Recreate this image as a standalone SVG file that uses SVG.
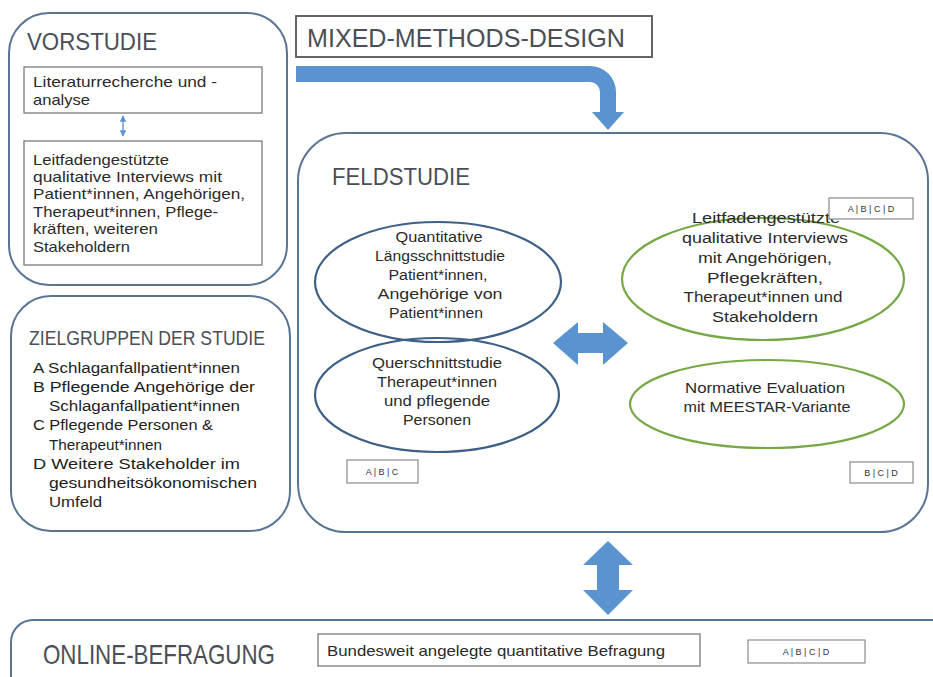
<svg xmlns="http://www.w3.org/2000/svg" width="933" height="677" viewBox="0 0 933 677">
<style>
.frame{fill:#fff;stroke:#5a7593;stroke-width:2}
.box{fill:#fff;stroke:#7a7a7a;stroke-width:1.3}
.tag{fill:#fff;stroke:#8a8a8a;stroke-width:1.2}
.title{font-family:"Liberation Sans",Arial,sans-serif;fill:#4a4f57}
.t{font-family:"Liberation Sans",Arial,sans-serif;font-size:15px;fill:#2a2a2a}
.tl{font-family:"Liberation Sans",Arial,sans-serif;font-size:15.5px;fill:#1e1e1e}
.tc{font-family:"Liberation Sans",Arial,sans-serif;font-size:15.5px;fill:#2a2a2a;text-anchor:middle}
.tg{font-family:"Liberation Sans",Arial,sans-serif;font-size:9px;fill:#333;text-anchor:middle}
.eb{fill:none;stroke:#3e5f86;stroke-width:2.2}
.eg{fill:none;stroke:#76a845;stroke-width:2.2}
.arr{fill:#5b93d1}
</style>
<defs>
<marker id="ah" viewBox="0 0 10 10" refX="9" refY="5" markerWidth="5" markerHeight="5" orient="auto-start-reverse">
<path d="M0,0 L10,5 L0,10 Z" fill="#5b93d1"/>
</marker>
</defs>
<rect width="933" height="677" fill="#fff"/>

<g id="vorstudie">
<rect class="frame" x="9" y="13" width="278" height="272" rx="40"/>
<text class="title" x="27" y="50" font-size="24" textLength="130" lengthAdjust="spacingAndGlyphs">VORSTUDIE</text>
</g>
<g id="literatur">
<rect class="box" x="24" y="67" width="238" height="46"/>
<text class="t" x="33" y="87" textLength="184" lengthAdjust="spacingAndGlyphs">Literaturrecherche  und  -</text>
<text class="t" x="33" y="105" textLength="57" lengthAdjust="spacingAndGlyphs">analyse</text>
</g>
<g id="interviews-vor">
<rect class="box" x="24" y="141" width="238" height="124"/>
<text class="t" x="33" y="165" textLength="136" lengthAdjust="spacingAndGlyphs">Leitfadengestützte</text>
<text class="t" x="33" y="182" textLength="189" lengthAdjust="spacingAndGlyphs">qualitative Interviews mit</text>
<text class="t" x="33" y="199" textLength="212" lengthAdjust="spacingAndGlyphs">Patient*innen,  Angehörigen,</text>
<text class="t" x="33" y="217" textLength="185" lengthAdjust="spacingAndGlyphs">Therapeut*innen,  Pflege-</text>
<text class="t" x="33" y="234" textLength="125" lengthAdjust="spacingAndGlyphs">kräften,  weiteren</text>
<text class="t" x="33" y="252" textLength="97" lengthAdjust="spacingAndGlyphs">Stakeholdern</text>
</g>

<g id="mixed">
<rect x="296" y="16" width="356" height="41" fill="#fff" stroke="#555" stroke-width="1.8"/>
<text class="title" x="307" y="47" font-size="25" textLength="318" lengthAdjust="spacingAndGlyphs">MIXED-METHODS-DESIGN</text>
</g>

<g id="zielgruppen">
<rect class="frame" x="11" y="296" width="279" height="235" rx="40"/>
<text class="title" x="29" y="345" font-size="21" fill="#5a5f66" textLength="236" lengthAdjust="spacingAndGlyphs">ZIELGRUPPEN DER STUDIE</text>
<text class="tl" x="33" y="373" textLength="207" lengthAdjust="spacingAndGlyphs">A Schlaganfallpatient*innen</text>
<text class="tl" x="33" y="392" textLength="222" lengthAdjust="spacingAndGlyphs">B Pflegende Angehörige  der</text>
<text class="tl" x="49" y="411" textLength="191" lengthAdjust="spacingAndGlyphs">Schlaganfallpatient*innen</text>
<text class="tl" x="33" y="430" textLength="180" lengthAdjust="spacingAndGlyphs">C Pflegende Personen  &amp;</text>
<text class="tl" x="49" y="450" textLength="113" lengthAdjust="spacingAndGlyphs">Therapeut*innen</text>
<text class="tl" x="33" y="469" textLength="207" lengthAdjust="spacingAndGlyphs">D Weitere Stakeholder im</text>
<text class="tl" x="49" y="488" textLength="208" lengthAdjust="spacingAndGlyphs">gesundheitsökonomischen</text>
<text class="tl" x="49" y="507" textLength="53" lengthAdjust="spacingAndGlyphs">Umfeld</text>
</g>

<g id="feldstudie">
<rect class="frame" x="298" y="133" width="630" height="399" rx="48"/>
<text class="title" x="332" y="185" font-size="23" textLength="138" lengthAdjust="spacingAndGlyphs">FELDSTUDIE</text>
</g>

<g id="laengsschnitt">
<ellipse class="eb" cx="438" cy="282" rx="123" ry="60"/>
<text class="tc" x="439" y="242" textLength="87" lengthAdjust="spacingAndGlyphs">Quantitative</text>
<text class="tc" x="440" y="261" textLength="130" lengthAdjust="spacingAndGlyphs">Längsschnittstudie</text>
<text class="tc" x="438" y="280" textLength="99" lengthAdjust="spacingAndGlyphs">Patient*innen,</text>
<text class="tc" x="440" y="299" textLength="125" lengthAdjust="spacingAndGlyphs">Angehörige  von</text>
<text class="tc" x="436" y="318" textLength="94" lengthAdjust="spacingAndGlyphs">Patient*innen</text>
</g>
<g id="querschnitt">
<ellipse class="eb" cx="437" cy="395" rx="122" ry="57"/>
<text class="tc" x="437" y="368" textLength="130" lengthAdjust="spacingAndGlyphs">Querschnittstudie</text>
<text class="tc" x="437" y="387" textLength="120" lengthAdjust="spacingAndGlyphs">Therapeut*innen</text>
<text class="tc" x="437" y="406" textLength="106" lengthAdjust="spacingAndGlyphs">und  pflegende</text>
<text class="tc" x="437" y="425" textLength="68" lengthAdjust="spacingAndGlyphs">Personen</text>
</g>
<g id="tag-abc">
<rect class="tag" x="347" y="460" width="71" height="23"/>
<text class="tg" x="382" y="475">A | B | C</text>
</g>

<g id="interviews-feld">
<ellipse class="eg" cx="763" cy="279" rx="141" ry="61"/>
<text class="tc" x="766" y="223" textLength="148" lengthAdjust="spacingAndGlyphs">Leitfadengestützte</text>
<text class="tc" x="765" y="243" textLength="166" lengthAdjust="spacingAndGlyphs">qualitative Interviews</text>
<text class="tc" x="765" y="263" textLength="134" lengthAdjust="spacingAndGlyphs">mit  Angehörigen,</text>
<text class="tc" x="765" y="283" textLength="116" lengthAdjust="spacingAndGlyphs">Pflegekräften,</text>
<text class="tc" x="763" y="302" textLength="159" lengthAdjust="spacingAndGlyphs">Therapeut*innen  und</text>
<text class="tc" x="765" y="322" textLength="106" lengthAdjust="spacingAndGlyphs">Stakeholdern</text>
</g>
<g id="normativ">
<ellipse class="eg" cx="767" cy="404" rx="137" ry="44"/>
<text class="tc" x="765" y="393" textLength="160" lengthAdjust="spacingAndGlyphs">Normative Evaluation</text>
<text class="tc" x="767" y="412" textLength="167" lengthAdjust="spacingAndGlyphs">mit  MEESTAR-Variante</text>
</g>
<g id="tag-abcd">
<rect class="tag" x="829" y="198" width="84" height="21"/>
<text class="tg" x="871" y="212">A | B | C | D</text>
</g>
<g id="tag-bcd">
<rect class="tag" x="850" y="462" width="63" height="21"/>
<text class="tg" x="881" y="476">B | C | D</text>
</g>

<g id="online">
<rect class="frame" x="11" y="620" width="950" height="90" rx="22"/>
<text class="title" x="43" y="664" font-size="28" textLength="232" lengthAdjust="spacingAndGlyphs">ONLINE-BEFRAGUNG</text>
<rect class="box" x="318" y="634" width="382" height="32"/>
<text class="t" x="327" y="656" textLength="338" lengthAdjust="spacingAndGlyphs">Bundesweit angelegte quantitative Befragung</text>
<rect class="tag" x="748" y="640" width="117" height="23"/>
<text class="tg" x="806" y="655">A | B | C | D</text>
</g>

<g id="connectors">
<line x1="123" y1="116" x2="123" y2="136" stroke="#5b93d1" stroke-width="1.3" marker-start="url(#ah)" marker-end="url(#ah)"/>
<path class="arr" d="M296,66 H590 A26,26 0 0 1 616,92 V112 H624 L608,130 L592,112 H600 V92 A10,10 0 0 0 590,82 H296 Z"/>
<path class="arr" d="M553,343 L578,322 V333 H603 V322 L628,343 L603,365 V353 H578 V365 Z"/>
<path class="arr" d="M608,541 L633,565 H619 V590 H633 L608,615 L583,590 H597 V565 H583 Z"/>
</g>
</svg>
